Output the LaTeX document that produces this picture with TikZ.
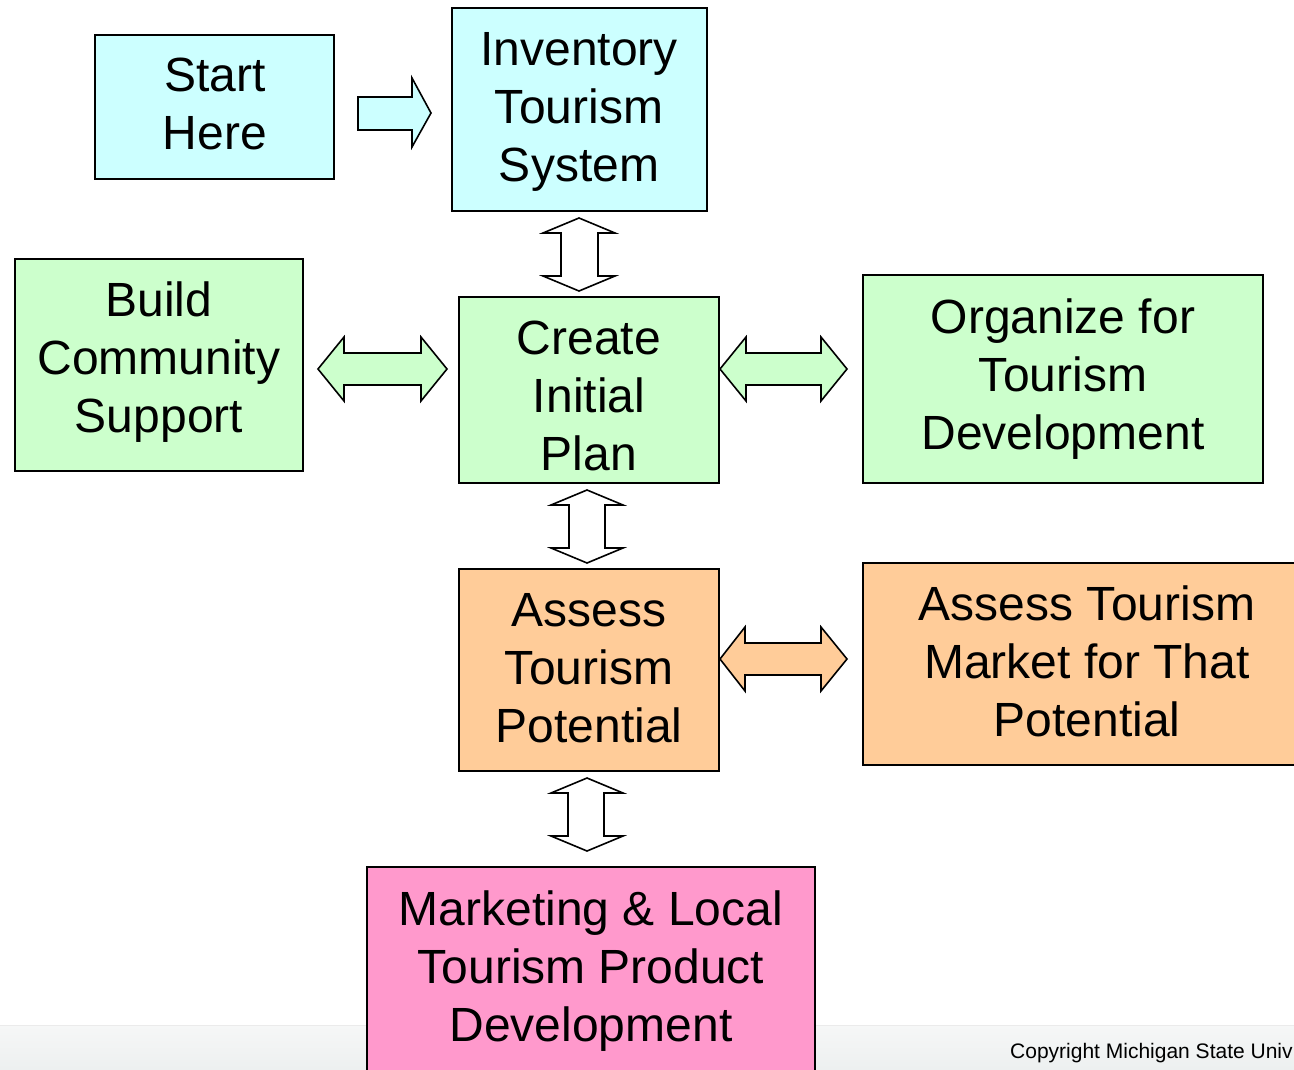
\documentclass[tikz,border=0pt]{standalone}
\usepackage{fontspec}
\setmainfont{Liberation Sans}
\definecolor{cyanf}{HTML}{CCFFFF}
\definecolor{greenf}{HTML}{CCFFCC}
\definecolor{orangef}{HTML}{FFCC99}
\definecolor{pinkf}{HTML}{FF99CC}
\definecolor{bandtop}{HTML}{F6F7F7}
\definecolor{bandbot}{HTML}{EDF0F0}
\tikzset{
  box/.style={draw=black, line width=1.6pt, inner sep=0pt, outer sep=0pt},
  lbl/.style={font=\fontsize{48}{58}\selectfont, align=center, inner sep=0pt, text=black},
  blockarrow/.style={draw=black, line width=1.6pt, line join=miter},
}
\begin{document}
\begin{tikzpicture}[x=1pt,y=-1pt]
\useasboundingbox (0,0) rectangle (1294,1069);
\clip (0,0) rectangle (1294,1069);
\fill[white] (0,0) rectangle (1294,1069);
% bottom band
\shade[top color=bandtop, bottom color=bandbot] (0,1025) rectangle (1294,1069);
\draw[color=black!8, line width=0.8pt] (0,1025) -- (1294,1025);
\node[anchor=base west, inner sep=0pt, font=\fontsize{21}{24}\selectfont] (copy) at (1010,1058) {Copyright Michigan State Univ};

% boxes
\path[box, fill=cyanf] (95,35) rectangle (334,179);
\path[box, fill=cyanf] (452,8) rectangle (707,211);
\path[box, fill=greenf] (15,259) rectangle (303,471);
\path[box, fill=greenf] (459,297) rectangle (719,483);
\path[box, fill=greenf] (863,275) rectangle (1263,483);
\path[box, fill=orangef] (459,569) rectangle (719,771);
\path[box, fill=orangef] (863,563) rectangle (1300,765);
\path[box, fill=pinkf] (367,867) rectangle (815,1080);

% texts
\node[lbl] (startT) at (215,104) {Start\\Here};
\node[lbl] (invT) at (579,112) {Inventory\\Tourism\\System};
\node[lbl] (buildT) at (159,362) {Build\\Community\\Support};
\node[lbl] (createT) at (589,396) {Create\\Initial\\Plan};
\node[lbl] (orgT) at (1063,379) {Organize for\\Tourism\\Development};
\node[lbl] (assessT) at (589,668) {Assess\\Tourism\\Potential};
\node[lbl] (marketT) at (1087,661) {Assess Tourism\\Market for That\\Potential};
\node[lbl] (mktT) at (591,971) {Marketing \& Local\\Tourism Product\\Development};

% right arrow Start -> Inventory
\draw[blockarrow, fill=cyanf] (358,97) -- (412,97) -- (412,78) -- (431,113) -- (412,147) -- (412,130) -- (358,130) -- cycle;

% vertical double arrows
\draw[blockarrow, fill=white] (579,218) -- (615,233) -- (598,233) -- (598,276) -- (615,276) -- (579,291) -- (543,276) -- (561,276) -- (561,233) -- (543,233) -- cycle;
\draw[blockarrow, fill=white] (587,490) -- (623,505) -- (605,505) -- (605,548) -- (623,548) -- (587,563) -- (551,548) -- (569,548) -- (569,505) -- (551,505) -- cycle;
\draw[blockarrow, fill=white] (587,778) -- (623,793) -- (604,793) -- (604,836) -- (623,836) -- (587,851) -- (551,836) -- (568,836) -- (568,793) -- (551,793) -- cycle;

% horizontal double arrows
\draw[blockarrow, fill=greenf] (318,369) -- (344,337) -- (344,353) -- (421,353) -- (421,337) -- (447,369) -- (421,401) -- (421,385) -- (344,385) -- (344,401) -- cycle;
\draw[blockarrow, fill=greenf] (720,369) -- (746,337) -- (746,353) -- (821,353) -- (821,337) -- (847,369) -- (821,401) -- (821,385) -- (746,385) -- (746,401) -- cycle;
\draw[blockarrow, fill=orangef] (720,659) -- (745,627) -- (745,643) -- (821,643) -- (821,627) -- (847,659) -- (821,691) -- (821,675) -- (745,675) -- (745,691) -- cycle;
\end{tikzpicture}
\end{document}
